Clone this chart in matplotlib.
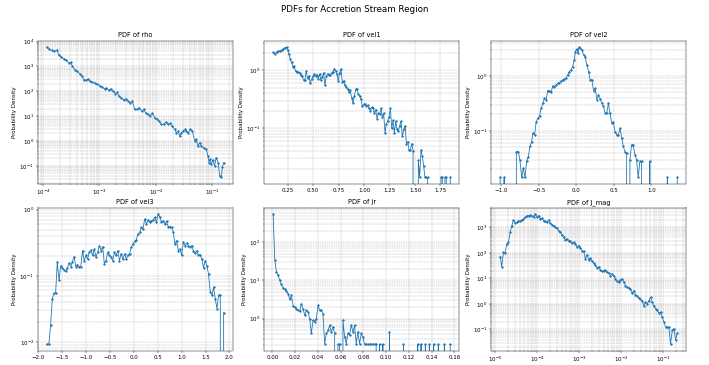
import numpy as np
import matplotlib
matplotlib.use("Agg")
import matplotlib.pyplot as plt

# ---------------- data ----------------
rho_x = [1.15e-4, 1.26e-4, 1.41e-4, 1.55e-4, 1.73e-4, 1.92e-4, 2.11e-4, 2.36e-4, 2.6e-4, 2.86e-4,
         3.1e-4, 3.32e-4, 3.65e-4, 4.0e-4, 4.5e-4, 4.9e-4, 5.3e-4, 5.7e-4, 6.3e-4, 6.7e-4,
         7.5e-4, 8.3e-4, 9.1e-4, 1.01e-3, 1.11e-3, 1.24e-3, 1.33e-3, 1.47e-3, 1.59e-3, 1.75e-3,
         1.92e-3, 2.06e-3, 2.23e-3, 2.46e-3, 2.7e-3, 2.93e-3, 3.23e-3, 3.55e-3, 3.85e-3, 4.24e-3,
         4.67e-3, 5.06e-3, 5.6e-3, 6.1e-3, 6.6e-3, 7.3e-3, 8.0e-3, 8.7e-3, 9.6e-3, 1.06e-2,
         1.15e-2, 1.26e-2, 1.39e-2, 1.51e-2, 1.66e-2, 1.82e-2, 1.98e-2, 2.17e-2, 2.33e-2, 2.49e-2,
         2.67e-2, 2.86e-2, 3.06e-2, 3.27e-2, 3.5e-2, 3.75e-2, 4.12e-2, 4.48e-2, 4.92e-2, 5.27e-2,
         5.64e-2, 6.04e-2, 6.47e-2, 7.1e-2, 7.9e-2, 8.5e-2, 8.85e-2, 9.3e-2, 9.7e-2, 0.104,
         0.111, 0.119, 0.128, 0.137, 0.147, 0.152, 0.161]
rho_pdf = [5900, 4900, 4400, 4000, 4400, 2900, 2400, 2000, 1740, 1360,
           1450, 1000, 736, 630, 510, 400, 293, 275, 311, 251,
           229, 215, 196, 169, 149, 124, 136, 110, 124, 100,
           81, 91, 63, 54, 46, 49, 40, 34, 40, 18.5,
           18.5, 21.5, 15.8, 18.5, 13.6, 11.7, 10, 13.6, 8.6, 7.4,
           6.3, 4.6, 4.6, 5.75, 4.6, 5.1, 4.0, 2.9, 2.15, 2.5,
           1.58, 2.15, 2.5, 2.9, 2.5, 2.15, 2.9, 2.5, 1.0, 1.17,
           0.63, 0.86, 0.63, 0.54, 0.46, 0.25, 0.136, 0.185, 0.117, 0.174,
           0.1, 0.215, 0.136, 0.04, 0.034, 0.086, 0.136]

vel1_x = [0.109, 0.126, 0.142, 0.158, 0.175, 0.191, 0.207, 0.224, 0.240, 0.250,
          0.263, 0.276, 0.289, 0.302, 0.315, 0.329, 0.342, 0.355, 0.368, 0.381,
          0.394, 0.407, 0.420, 0.433, 0.446, 0.460, 0.473, 0.486, 0.499, 0.512,
          0.525, 0.538, 0.551, 0.564, 0.577, 0.591, 0.604, 0.617, 0.630, 0.643,
          0.656, 0.669, 0.682, 0.695, 0.708, 0.722, 0.735, 0.748, 0.761, 0.774,
          0.787, 0.800, 0.813, 0.826, 0.839, 0.852, 0.866, 0.879, 0.892, 0.905,
          0.918, 0.931, 0.944, 0.957, 0.970, 0.983, 0.997, 1.010, 1.023, 1.036,
          1.049, 1.062, 1.075, 1.088, 1.101, 1.114, 1.128, 1.141, 1.154, 1.167,
          1.180, 1.193, 1.206, 1.219, 1.232, 1.245, 1.259, 1.272, 1.285, 1.298,
          1.311, 1.324, 1.337, 1.350, 1.363, 1.376, 1.390, 1.403,
          1.416, 1.429, 1.442, 1.455, 1.468, 1.481, 1.494, 1.507, 1.520, 1.533,
          1.546, 1.559, 1.572, 1.585, 1.598, 1.611, 1.624, 1.637, 1.650, 1.663,
          1.676, 1.689, 1.703, 1.716, 1.729, 1.742, 1.755, 1.768, 1.781, 1.794,
          1.807, 1.820, 1.833, 1.846]
vel1_pdf = [2.05, 1.91, 2.10, 2.16, 2.19, 2.26, 2.35, 2.49, 2.53, 2.26,
            1.96, 1.59, 1.38, 1.17, 1.20, 0.97, 0.93, 0.93, 0.91, 0.82,
            0.79, 0.68, 0.68, 0.97, 0.73, 0.79, 0.61, 0.70, 0.79, 0.87,
            0.79, 0.85, 0.71, 0.87, 0.68, 0.78, 0.91, 0.55, 0.79, 0.87,
            0.85, 0.85, 0.91, 0.95, 1.07, 0.97, 0.87, 0.66, 0.91, 1.07,
            0.64, 0.66, 0.55, 0.52, 0.47, 0.42, 0.45, 0.34, 0.27, 0.36,
            0.47, 0.48, 0.39, 0.36, 0.32, 0.24, 0.26, 0.26, 0.24, 0.25,
            0.22, 0.20, 0.23, 0.22, 0.185, 0.21, 0.146, 0.18, 0.175, 0.22,
            0.157, 0.18, 0.083, 0.118, 0.132, 0.157, 0.22, 0.10, 0.136, 0.083,
            0.132, 0.096, 0.089, 0.11, 0.132, 0.072, 0.096, 0.11,
            0.054, 0.058, 0.042, 0.042, 0.054, 0.041, 0, 0, 0, 0.028,
            0.014, 0.042, 0.033, 0.022, 0.014, 0.014, 0.014, 0, 0, 0,
            0, 0, 0, 0, 0, 0, 0.014, 0.014, 0, 0.014,
            0.014, 0, 0, 0.014]

vel2_x = [-1.015, -0.989, -0.962, -0.936, -0.909, -0.882, -0.855, -0.828,
          -0.799, -0.773, -0.751, -0.728, -0.706, -0.684, -0.662, -0.640, -0.618, -0.596,
          -0.578, -0.556, -0.534, -0.512, -0.490, -0.468, -0.446, -0.424, -0.402, -0.380,
          -0.358, -0.336, -0.313, -0.291, -0.269, -0.247, -0.225, -0.203, -0.181, -0.159,
          -0.137, -0.115, -0.093, -0.071, -0.049, -0.026, -0.013, 0.004, 0.022, 0.035,
          0.053, 0.075, 0.097, 0.119, 0.141, 0.163, 0.185, 0.208, 0.230, 0.252,
          0.274, 0.296, 0.318, 0.340, 0.362, 0.384, 0.406, 0.428, 0.450, 0.472,
          0.494, 0.517, 0.539, 0.561, 0.583, 0.605, 0.627, 0.649, 0.671, 0.693,
          0.715, 0.737, 0.759, 0.781, 0.804, 0.826, 0.848, 0.870, 0.892, 0.914,
          0.936, 0.958, 0.980, 1.002, 1.024, 1.046, 1.068, 1.090, 1.112, 1.134,
          1.156, 1.178, 1.192, 1.214, 1.236, 1.258, 1.280, 1.302, 1.324, 1.346]
vel2_pdf = [0.0142, 0, 0.0142, 0, 0, 0, 0, 0,
            0.042, 0.042, 0.029, 0.0142, 0.021, 0.0142, 0.028, 0.034, 0.052, 0.064,
            0.091, 0.085, 0.148, 0.17, 0.187, 0.26, 0.32, 0.39, 0.37, 0.54,
            0.54, 0.50, 0.66, 0.62, 0.69, 0.74, 0.74, 0.81, 0.85, 0.87,
            0.91, 1.04, 1.20, 1.29, 1.48, 1.95, 2.77, 3.05, 2.58, 3.32,
            3.18, 2.97, 2.41, 2.25, 1.58, 1.20, 0.85, 0.85, 0.54, 0.60,
            0.37, 0.45, 0.38, 0.32, 0.28, 0.215, 0.21, 0.32, 0.21, 0.138,
            0.142, 0.097, 0.085, 0.085, 0.112, 0.074, 0.052, 0.042, 0.039, 0,
            0.030, 0.056, 0.056, 0.037, 0.030, 0.0142, 0.028, 0.028, 0, 0,
            0, 0, 0.028, 0, 0, 0, 0, 0, 0, 0,
            0, 0, 0, 0.0142, 0, 0, 0, 0, 0, 0.0142]

vel3_x = [-1.831, -1.782, -1.746, -1.711, -1.676, -1.641, -1.606, -1.570, -1.535, -1.500,
          -1.465, -1.430, -1.394, -1.359, -1.324, -1.289, -1.254, -1.218, -1.183, -1.148,
          -1.113, -1.077, -1.042, -1.007, -0.972, -0.937, -0.901, -0.866, -0.831, -0.796,
          -0.761, -0.725, -0.690, -0.655, -0.620, -0.585, -0.549, -0.514, -0.479, -0.444,
          -0.408, -0.373, -0.338, -0.303, -0.268, -0.232, -0.197, -0.162, -0.127, -0.092,
          -0.056, -0.021, 0.014, 0.049, 0.085, 0.120, 0.155, 0.190, 0.225, 0.261,
          0.296, 0.331, 0.366, 0.401, 0.437, 0.472, 0.507, 0.542, 0.577, 0.613,
          0.648, 0.683, 0.718, 0.754, 0.789, 0.824, 0.859, 0.894, 0.930, 0.965,
          1.000, 1.035, 1.070, 1.106, 1.141, 1.176, 1.211, 1.246, 1.282, 1.317,
          1.352, 1.387, 1.423, 1.458, 1.493, 1.528, 1.563, 1.599, 1.634, 1.669,
          1.704, 1.739, 1.775, 1.810, 1.845, 1.880]
vel3_pdf = [0.0092, 0.0092, 0.0178, 0.045, 0.054, 0.055, 0.161, 0.085, 0.143, 0.132,
            0.123, 0.117, 0.132, 0.155, 0.138, 0.164, 0.195, 0.138, 0.148, 0.138,
            0.138, 0.241, 0.170, 0.203, 0.180, 0.227, 0.247, 0.203, 0.255, 0.191,
            0.227, 0.287, 0.241, 0.277, 0.152, 0.170, 0.227, 0.203, 0.191, 0.170,
            0.227, 0.203, 0.241, 0.170, 0.215, 0.180, 0.215, 0.180, 0.203, 0.215,
            0.271, 0.304, 0.333, 0.349, 0.430, 0.455, 0.542, 0.511, 0.723, 0.608,
            0.699, 0.644, 0.683, 0.699, 0.766, 0.644, 0.861, 0.766, 0.644, 0.683,
            0.608, 0.667, 0.555, 0.555, 0.542, 0.455, 0.304, 0.341, 0.241, 0.255,
            0.203, 0.322, 0.287, 0.311, 0.287, 0.271, 0.287, 0.241, 0.220, 0.241,
            0.203, 0.210, 0.180, 0.132, 0.170, 0.143, 0.107, 0.057, 0.051, 0.067,
            0.045, 0.032, 0.051, 0.051, 0, 0.0277]

jr_x = [0.0006, 0.0020, 0.0035, 0.0050, 0.0064, 0.0079, 0.0094, 0.0108, 0.0123, 0.0137,
        0.0152, 0.0167, 0.0181, 0.0196, 0.0211, 0.0225, 0.0240, 0.0254, 0.0269, 0.0284,
        0.0298, 0.0313, 0.0327, 0.0342, 0.0357, 0.0371, 0.0386, 0.0401, 0.0415, 0.0430,
        0.0444, 0.0459, 0.0474, 0.0488, 0.0503, 0.0518, 0.0532, 0.0547, 0.0561, 0.0576,
        0.0591, 0.0605, 0.0620, 0.0635, 0.0649, 0.0664, 0.0678, 0.0693, 0.0708, 0.0722,
        0.0737, 0.0751, 0.0766, 0.0781, 0.0795, 0.0810, 0.0825, 0.0839, 0.0854, 0.0868,
        0.0883, 0.0898, 0.0912, 0.0927, 0.0942, 0.0956, 0.0971, 0.0985, 0.1000, 0.1015,
        0.1029, 0.1044, 0.1137, 0.1152, 0.1167, 0.1263, 0.1278, 0.1292, 0.1307, 0.1322,
        0.1330, 0.1345, 0.1360, 0.1365, 0.1380, 0.1395, 0.1403, 0.1418, 0.1433, 0.1444,
        0.1459, 0.1474, 0.1497, 0.1512, 0.1527, 0.1549, 0.1564]
jr_pdf = [548, 34.6, 16.5, 13.5, 10, 7.9, 6.4, 5.9, 5.2, 4.5,
          3.2, 4.1, 2.2, 2.0, 1.82, 1.72, 1.58, 2.46, 1.82, 1.22,
          1.65, 1.49, 1.0, 0.41, 0.91, 0.82, 1.0, 2.23, 1.65, 1.65,
          1.35, 0.223, 0.41, 0.50, 0.67, 0.45, 0.61, 0.41, 0, 0.214,
          0.214, 0, 0.91, 0.33, 0.223, 0.41, 0.37, 0.67, 0.45, 0.67,
          0.223, 0.45, 0.223, 0.41, 0.33, 0.214, 0.214, 0.214, 0.214, 0.214,
          0.214, 0.214, 0.214, 0, 0.214, 0, 0.214, 0, 0, 0,
          0.45, 0, 0, 0.214, 0, 0, 0.214, 0, 0.214, 0,
          0, 0.214, 0, 0, 0.214, 0, 0, 0.214, 0, 0,
          0.214, 0, 0, 0.214, 0, 0, 0.214]

jmag_x = [1.32e-5, 1.44e-5, 1.58e-5, 1.73e-5, 1.90e-5, 2.08e-5, 2.29e-5, 2.50e-5, 2.74e-5, 3.0e-5,
          3.3e-5, 3.61e-5, 3.96e-5, 4.34e-5, 4.75e-5, 5.21e-5, 5.71e-5, 6.26e-5, 6.87e-5, 7.52e-5,
          8.24e-5, 9.04e-5, 9.9e-5, 1.09e-4, 1.19e-4, 1.31e-4, 1.43e-4, 1.57e-4, 1.72e-4, 1.88e-4,
          2.07e-4, 2.26e-4, 2.48e-4, 2.72e-4, 2.98e-4, 3.27e-4, 3.58e-4, 3.93e-4, 4.30e-4, 4.71e-4,
          5.16e-4, 5.66e-4, 6.21e-4, 6.81e-4, 7.46e-4, 8.17e-4, 8.96e-4, 9.8e-4, 1.08e-3, 1.18e-3,
          1.29e-3, 1.42e-3, 1.55e-3, 1.70e-3, 1.87e-3, 2.05e-3, 2.24e-3, 2.46e-3, 2.69e-3, 2.95e-3,
          3.24e-3, 3.55e-3, 3.89e-3, 4.26e-3, 4.67e-3, 5.12e-3, 5.61e-3, 6.15e-3, 6.74e-3, 7.39e-3,
          8.1e-3, 8.87e-3, 9.7e-3, 1.07e-2, 1.17e-2, 1.28e-2, 1.40e-2, 1.54e-2, 1.69e-2, 1.85e-2,
          2.03e-2, 2.22e-2, 2.43e-2, 2.67e-2, 2.92e-2, 3.21e-2, 3.52e-2, 3.85e-2, 4.22e-2, 4.63e-2,
          5.07e-2, 5.56e-2, 6.10e-2, 6.68e-2, 7.32e-2, 8.02e-2, 8.8e-2, 9.6e-2, 0.106, 0.116,
          0.127, 0.139, 0.152, 0.167, 0.183, 0.201, 0.220]
jmag_pdf = [71, 29, 105, 96, 223, 259, 637, 1160, 1935, 1476,
            1570, 1718, 1824, 1935, 2120, 2460, 2860, 2860, 3030, 2770,
            2610, 3320, 2610, 2860, 2120, 2320, 1824, 1718, 1570, 1935,
            1430, 1270, 1160, 1000, 914, 741, 637, 516, 406, 320,
            350, 283, 301, 237, 259, 223, 175, 192, 156, 122,
            115, 58, 85, 53, 63, 47, 39, 32, 25.7, 29,
            21.4, 19, 20.2, 21.4, 17.4, 15.9, 12.9, 15, 12.9, 9.5,
            7.7, 7.1, 8.7, 9.5, 7.1, 5.2, 4.5, 4.2, 3.9, 2.6,
            3.3, 2.3, 2.1, 1.72, 1.57, 1.28, 0.86, 1.16, 1.0, 1.35,
            1.83, 1.16, 0.79, 0.64, 0.55, 0.43, 0.47, 0.30, 0.19, 0.123,
            0.123, 0.123, 0.026, 0.091, 0.105, 0.039, 0.071]

names = ["rho", "vel1", "vel2", "vel3", "jr", "J_mag"]
series = [(rho_x, rho_pdf, True), (vel1_x, vel1_pdf, False), (vel2_x, vel2_pdf, False),
          (vel3_x, vel3_pdf, False), (jr_x, jr_pdf, False), (jmag_x, jmag_pdf, True)]

# ---------------- figure ----------------
W, H = 709, 365
DPI = W / 18.0
fig = plt.figure(figsize=(18, H / DPI), dpi=DPI)

col_left = [37.7, 264.3, 491.3]
ax_w = 194.8
row_top = [40.7, 207.5]
ax_h = 143.3

for i, (name, (x, y, logx)) in enumerate(zip(names, series)):
    r, c = divmod(i, 3)
    ax = fig.add_axes([col_left[c] / W, 1 - (row_top[r] + ax_h) / H, ax_w / W, ax_h / H])
    ax.plot(np.array(x), np.array(y, dtype=float), marker='o', markersize=3, color='#1f77b4')
    ax.set_yscale('log')
    if logx:
        ax.set_xscale('log')
    ax.set_title(f"PDF of {name}")
    ax.set_ylabel("Probability Density")
    ax.grid(True, which='both', linestyle='--', linewidth=0.8)

fig.suptitle("PDFs for Accretion Stream Region", fontsize=16, y=0.985)
fig.savefig("out.png", dpi=DPI)
